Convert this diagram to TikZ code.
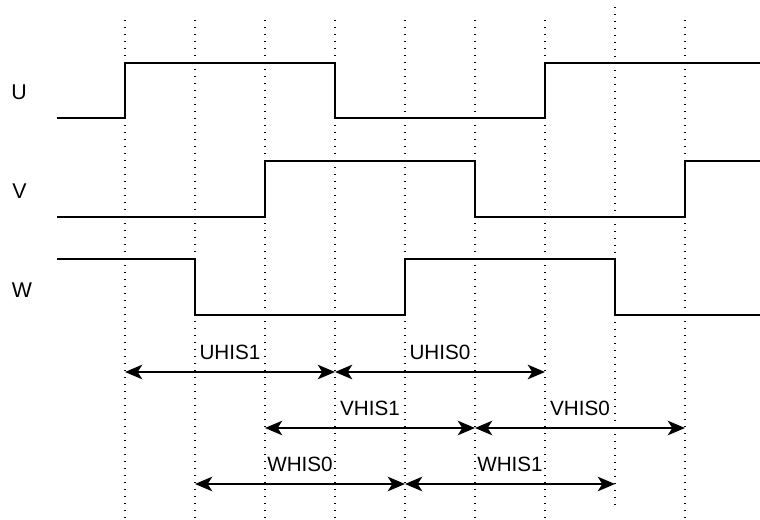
\documentclass[tikz,border=0pt]{standalone}
\usepackage{fontspec}
\setmainfont{Liberation Sans}
\usetikzlibrary{arrows.meta, positioning}

\begin{document}
\begin{tikzpicture}[
    x=0.75pt, y=-0.75pt,
    signal/.style={line width=1.1pt, line join=miter},
    marker/.style={line width=0.9pt, dash pattern=on 0.9pt off 4.35pt},
    span/.style={{Stealth[length=13pt, width=11pt, inset=3.5pt]}-{Stealth[length=13pt, width=11pt, inset=3.5pt]}, line width=1.1pt},
    every node/.style={font=\fontsize{15.5}{18}\selectfont, inner sep=0pt}
]
    \useasboundingbox (0,0) rectangle (760,520);

    % Dotted time markers
    \foreach \i/\x/\top/\bot in {1/125/20/520, 2/195/20/520, 3/265/20/520,
                                4/335/20/520, 5/405/20/520, 6/475/20/520,
                                7/545/20/520, 8/615/7/505, 9/685/20/520} {
        \coordinate (m\i top) at (\x,\top);
        \coordinate (m\i bot) at (\x,\bot);
        \draw[marker] (m\i top) -- (m\i bot);
    }

    % Phase labels
    \node[font=\fontsize{16}{18}\selectfont] (labU) at (19,92) {U};
    \node[font=\fontsize{16}{18}\selectfont] (labV) at (19.5,191) {V};
    \node[font=\fontsize{16}{18}\selectfont] (labW) at (22,290) {W};

    % Phase waveforms
    \draw[signal] (57,118) -- (125,118) -- (125,63) -- (335,63) -- (335,118)
        -- (545,118) -- (545,63) -- (760,63);
    \draw[signal] (57,217) -- (265,217) -- (265,161) -- (475,161) -- (475,217)
        -- (685,217) -- (685,161) -- (760,161);
    \draw[signal] (57,259) -- (195,259) -- (195,315) -- (405,315) -- (405,259)
        -- (615,259) -- (615,315) -- (760,315);

    % Hysteresis spans
    \coordinate (u1) at (125,372);
    \coordinate (u2) at (335,372);
    \coordinate (u3) at (545,372);
    \coordinate (v1) at (265,428);
    \coordinate (v2) at (475,428);
    \coordinate (v3) at (685,428);
    \coordinate (w1) at (195,484);
    \coordinate (w2) at (405,484);
    \coordinate (w3) at (615,484);

    \draw[span] (u1) -- node[above=8.6pt] (uhis1) {UHIS1} (u2);
    \draw[span] (u2) -- node[above=8.6pt] (uhis0) {UHIS0} (u3);
    \draw[span] (v1) -- node[above=8.6pt] (vhis1) {VHIS1} (v2);
    \draw[span] (v2) -- node[above=8.6pt] (vhis0) {VHIS0} (v3);
    \draw[span] (w1) -- node[above=8.6pt] (whis0) {WHIS0} (w2);
    \draw[span] (w2) -- node[above=8.6pt] (whis1) {WHIS1} (w3);

\end{tikzpicture}
\end{document}
